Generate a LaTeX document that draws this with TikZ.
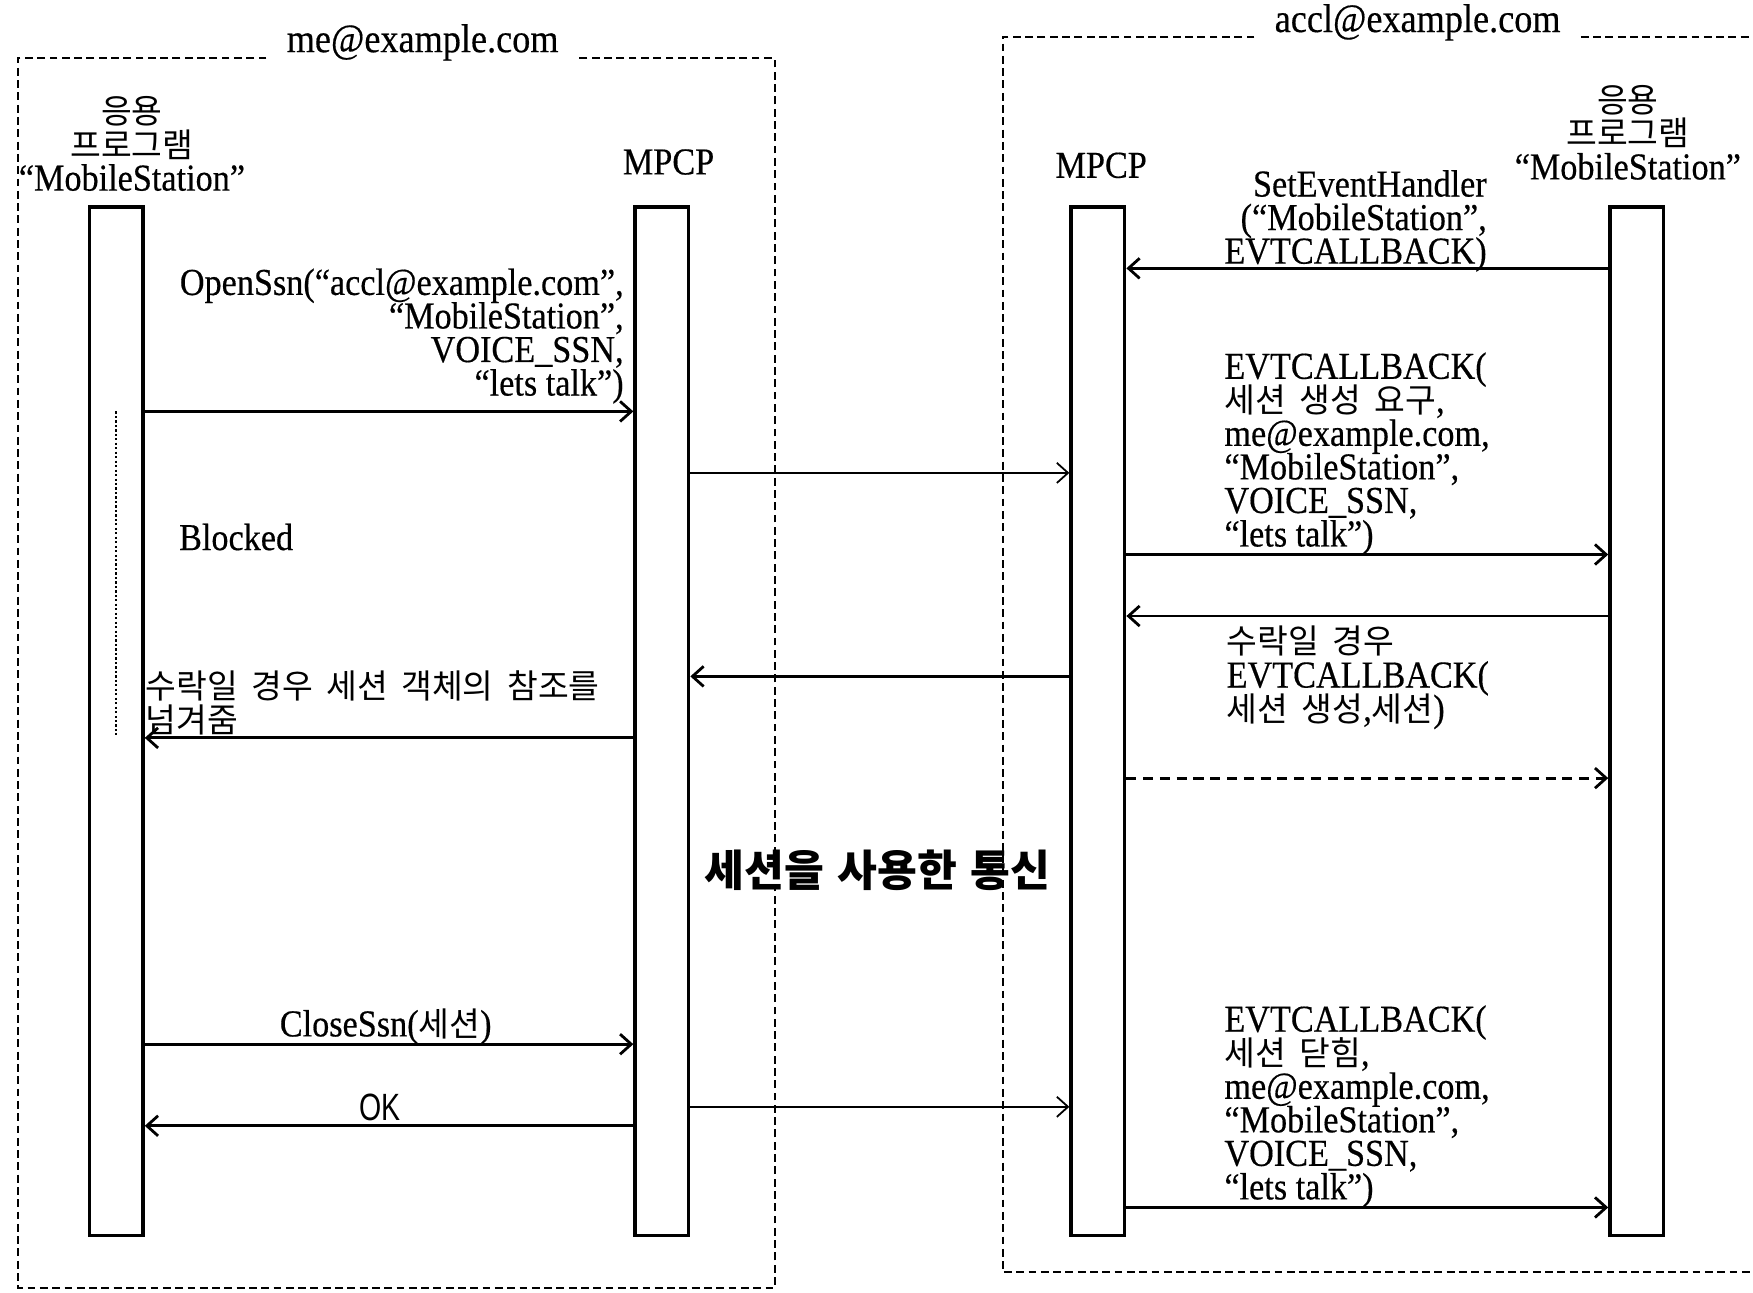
\documentclass[tikz,border=0pt]{standalone}
\usepackage{fontspec}
\setmainfont[FakeStretch=0.9,FakeBold=0.4]{Liberation Serif}
\newfontfamily\kr[Scale=0.88,WordSpace=1.8]{Noto Sans CJK KR}
\newfontfamily\oksans[FakeStretch=0.75]{Liberation Sans}
\usetikzlibrary{arrows.meta}
\lineskiplimit=-100pt
\begin{document}
\begin{tikzpicture}[x=1pt,y=-1pt,
  lbl/.style={inner sep=0pt, font=\fontsize{34}{30}\selectfont},
  ttl/.style={inner ysep=0pt, inner xsep=18pt, font=\fontsize{36}{30}\selectfont},
  life/.style={draw, line width=3pt, minimum width=48pt, minimum height=920pt, inner sep=0pt},
  msg/.style={line width=2.5pt, -{Straight Barb[length=10pt,width=18pt]}},
  thinmsg/.style={msg, line width=1.6pt},
  dashmsg/.style={msg, dash pattern=on 9pt off 6pt},
  dbox/.style={line width=1.8pt, dash pattern=on 7pt off 4pt},
]
\useasboundingbox (0,0) rectangle (1568,1156);

% titles and boxes
\node[ttl] (t1) at (378,38) {me@example.com};
\node[ttl] (t2) at (1268,20) {accl@example.com};
\coordinate (top1) at (0,52);
\coordinate (top2) at (0,33);
\draw[dbox] (t1.west |- top1) -- (16,52) -- (16,1152) -- (693,1152) -- (693,52) -- (t1.east |- top1);
\draw[dbox] (t2.west |- top2) -- (897,33) -- (897,1138) -- (1568,1138);
\draw[dbox] (t2.east |- top2) -- (1568,33);

% lifelines
\node[life] (A) at (104,645) {};
\node[life] (B) at (592,645) {};
\node[life] (C) at (982,645) {};
\node[life] (D) at (1464,645) {};

% headers
\node[lbl, align=center, anchor=south] (hA) at (118,171) {{\kr 응용}\\{\kr 프로그램}\\“MobileStation”};
\node[lbl, anchor=base] (hB) at (598,156) {MPCP};
\node[lbl, anchor=base] (hC) at (985,159) {MPCP};
\node[lbl, align=center, anchor=south] (hD) at (1456,161) {{\kr 응용}\\{\kr 프로그램}\\“MobileStation”};

% message levels
\coordinate (y1) at (0,240);
\coordinate (y2) at (0,368);
\coordinate (y3) at (0,423);
\coordinate (y4) at (0,496);
\coordinate (y5) at (0,551);
\coordinate (y6) at (0,605);
\coordinate (y7) at (0,660);
\coordinate (y8) at (0,696);
\coordinate (y9) at (0,934);
\coordinate (y10) at (0,990);
\coordinate (y11) at (0,1007);
\coordinate (y12) at (0,1080);

\draw[msg] (D.west |- y1) -- (C.east |- y1);
\draw[msg] (A.east |- y2) -- (B.west |- y2);
\draw[thinmsg] (B.east |- y3) -- (C.west |- y3);
\draw[msg] (C.east |- y4) -- (D.west |- y4);
\draw[msg] (D.west |- y5) -- (C.east |- y5);
\draw[msg] (C.west |- y6) -- (B.east |- y6);
\draw[msg] (B.west |- y7) -- (A.east |- y7);
\draw[dashmsg] (C.east |- y8) -- (D.west |- y8);
\draw[msg] (A.east |- y9) -- (B.west |- y9);
\draw[thinmsg] (B.east |- y10) -- (C.west |- y10);
\draw[msg] (B.west |- y11) -- (A.east |- y11);
\draw[msg] (C.east |- y12) -- (D.west |- y12);

% blocked indicator
\coordinate (bk1) at (104,368);
\coordinate (bk2) at (104,657);
\draw[line width=1.6pt, dash pattern=on 2pt off 2pt] (bk1) -- (bk2);

% labels
\node[lbl, align=right, anchor=north east] (l1) at (558,240)
  {OpenSsn(“accl@example.com”,\\“MobileStation”,\\VOICE\_SSN,\\“lets talk”)};
\node[lbl, align=right, anchor=north east] (l2) at (1330,152)
  {SetEventHandler\\(“MobileStation”,\\EVTCALLBACK)};
\node[lbl, align=left, anchor=north west] (l3) at (1095,315)
  {EVTCALLBACK(\\{\kr 세션 생성 요구},\\me@example.com,\\“MobileStation”,\\VOICE\_SSN,\\“lets talk”)};
\node[lbl, align=left, anchor=north west] (l4) at (1097,560)
  {{\kr 수락일 경우}\\EVTCALLBACK(\\{\kr 세션 생성},{\kr 세션})};
\node[lbl, align=left, anchor=north west] (l5) at (130,600)
  {{\kr 수락일 경우 세션 객체의 참조를}\\{\kr 넘겨줌}};
\node[lbl, anchor=base west] (l6) at (160,492) {Blocked};
\node[inner sep=0pt, font=\kr\fontsize{44}{44}\selectfont\bfseries] (l7) at (785,778) {세션을\hspace{12pt}사용한\hspace{12pt}통신};
\node[lbl, anchor=base] (l8) at (345,927) {CloseSsn({\kr 세션})};
\node[inner sep=0pt, anchor=base, font=\oksans\fontsize{34}{34}\selectfont] (l9) at (340,1002) {OK};
\node[lbl, align=left, anchor=north west] (l10) at (1095,899)
  {EVTCALLBACK(\\{\kr 세션 닫힘},\\me@example.com,\\“MobileStation”,\\VOICE\_SSN,\\“lets talk”)};
\end{tikzpicture}
\end{document}
